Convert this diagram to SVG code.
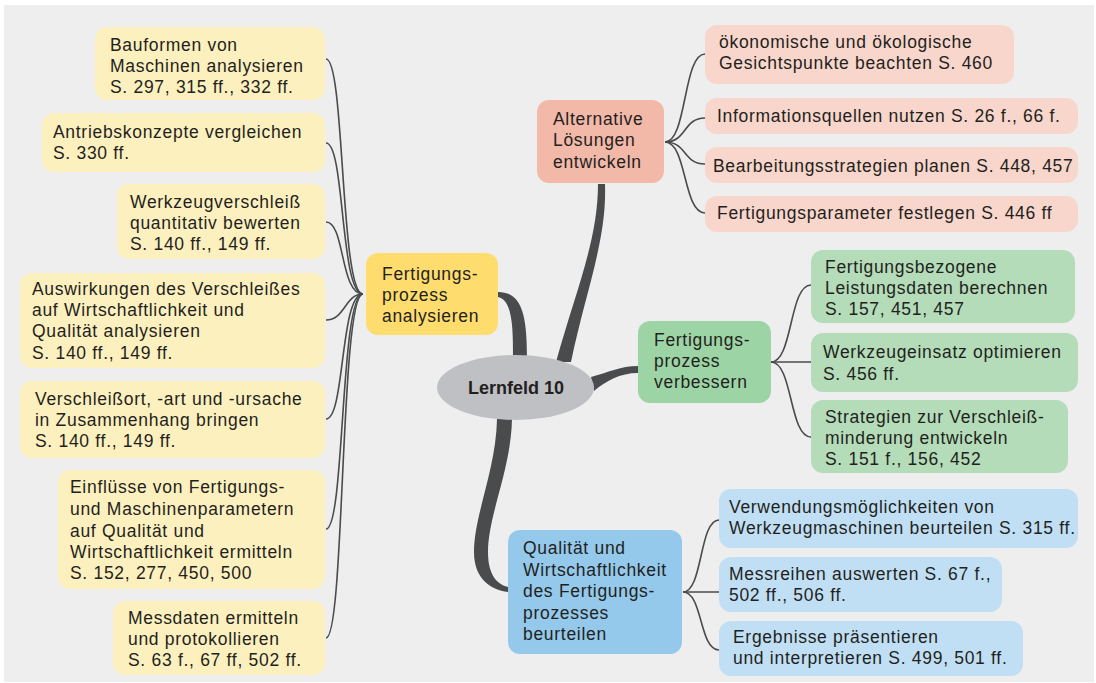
<svg xmlns="http://www.w3.org/2000/svg" width="1096" height="683" viewBox="0 0 1096 683">
<style>
text{font-family:"Liberation Sans",Arial,sans-serif;font-size:17.5px;fill:#231f20;letter-spacing:0.7px}
.c{font-weight:bold;font-size:18px;text-anchor:middle;letter-spacing:0}
.ln{fill:none;stroke:#4a4b4d;stroke-width:1.6}
.th{fill:#4a4b4d}
.y1{fill:#ffdc6e}.y2{fill:#fdf0bf}
.r1{fill:#f2b8a8}.r2{fill:#f8d6cb}
.g1{fill:#9dd4a6}.g2{fill:#b4dcb9}
.b1{fill:#94c9ec}.b2{fill:#c0dff5}
</style>
<rect x="0" y="0" width="1096" height="683" fill="#ffffff"/>
<rect x="4" y="5" width="1090" height="677" fill="#eeeeee"/>
<g id="connectors">
<path class="th" d="M513,358 C513,330 513,300 498,297 L498,292 C522,292 527,315 527,358 Z"/>
<path class="th" d="M556,362 C576,290 598,240 598,184 L605,184 C607,240 586,290 571,362 Z"/>
<path class="th" d="M591,377 C610,372 620,366 638,366 L638,373 C620,373 606,381 594,391 Z"/>
<path class="th" d="M497,419 C496,470 474,515 474,552 C474,578 490,590 508,592 L508,587 C495,584 488,572 488,552 C488,515 511,470 512,419 Z"/>
<path class="ln" d="M363,294 C340,294 345,59 326,59"/>
<path class="ln" d="M363,294 C340,294 345,143 326,143"/>
<path class="ln" d="M363,294 C340,294 345,222 326,222"/>
<path class="ln" d="M363,294 C345,294 345,320 326,320"/>
<path class="ln" d="M363,294 C340,294 345,419 326,419"/>
<path class="ln" d="M363,294 C340,294 345,529 326,529"/>
<path class="ln" d="M363,294 C340,294 345,638 326,638"/>
<path class="ln" d="M665,142 C687,142 683,54 705,54"/>
<path class="ln" d="M665,142 C687,142 683,118 705,118"/>
<path class="ln" d="M665,142 C687,142 683,164 705,164"/>
<path class="ln" d="M665,142 C687,142 683,213 705,213"/>
<path class="ln" d="M771,362 C793,362 789,285 811,285"/>
<path class="ln" d="M771,362 L811,362"/>
<path class="ln" d="M771,362 C793,362 789,437 811,437"/>
<path class="ln" d="M683,592 C703,592 699,520 719,520"/>
<path class="ln" d="M683,592 L719,592"/>
<path class="ln" d="M683,592 C703,592 699,650 719,650"/>
</g>
<g id="center">
<ellipse cx="515.5" cy="387.5" rx="78.5" ry="32.5" fill="#bfc0c4"/>
<text class="c" x="516" y="394">Lernfeld 10</text>
</g>
<g id="n-analysieren">
<rect class="y1" x="366" y="253" width="132" height="82" rx="12"/>
<text x="382" y="280">Fertigungs-</text>
<text x="382" y="301">prozess</text>
<text x="382" y="322">analysieren</text>
</g>
<g id="n-alternative">
<rect class="r1" x="537" y="100" width="127" height="83" rx="12"/>
<text x="553" y="125">Alternative</text>
<text x="553" y="146">Lösungen</text>
<text x="553" y="168">entwickeln</text>
</g>
<g id="n-verbessern">
<rect class="g1" x="638" y="321" width="133" height="82" rx="12"/>
<text x="654" y="346">Fertigungs-</text>
<text x="654" y="367">prozess</text>
<text x="654" y="388">verbessern</text>
</g>
<g id="n-beurteilen">
<rect class="b1" x="508" y="530" width="174" height="124" rx="12"/>
<text x="523" y="554">Qualität und</text>
<text x="523" y="575.5">Wirtschaftlichkeit</text>
<text x="523" y="597">des Fertigungs-</text>
<text x="523" y="618.5">prozesses</text>
<text x="523" y="640">beurteilen</text>
</g>
<g id="y-1">
<rect class="y2" x="95" y="27" width="230" height="73" rx="12"/>
<text x="110" y="51">Bauformen von</text>
<text x="110" y="72">Maschinen analysieren</text>
<text x="110" y="93">S. 297, 315 ff., 332 ff.</text>
</g>
<g id="y-2">
<rect class="y2" x="42" y="113" width="283" height="59" rx="12"/>
<text x="53" y="138">Antriebskonzepte vergleichen</text>
<text x="53" y="159">S. 330 ff.</text>
</g>
<g id="y-3">
<rect class="y2" x="117" y="184" width="208" height="75" rx="12"/>
<text x="130" y="208">Werkzeugverschleiß</text>
<text x="130" y="229">quantitativ bewerten</text>
<text x="130" y="250">S. 140 ff., 149 ff.</text>
</g>
<g id="y-4">
<rect class="y2" x="20" y="273" width="305" height="95" rx="12"/>
<text x="32" y="295">Auswirkungen des Verschleißes</text>
<text x="32" y="316">auf Wirtschaftlichkeit und</text>
<text x="32" y="337">Qualität analysieren</text>
<text x="32" y="359">S. 140 ff., 149 ff.</text>
</g>
<g id="y-5">
<rect class="y2" x="20" y="381" width="305" height="77" rx="12"/>
<text x="35" y="405">Verschleißort, -art und -ursache</text>
<text x="35" y="426">in Zusammenhang bringen</text>
<text x="35" y="447">S. 140 ff., 149 ff.</text>
</g>
<g id="y-6">
<rect class="y2" x="58" y="470" width="267" height="119" rx="12"/>
<text x="70" y="493">Einflüsse von Fertigungs-</text>
<text x="70" y="515">und Maschinenparametern</text>
<text x="70" y="537">auf Qualität und</text>
<text x="70" y="558">Wirtschaftlichkeit ermitteln</text>
<text x="70" y="579">S. 152, 277, 450, 500</text>
</g>
<g id="y-7">
<rect class="y2" x="113" y="601" width="212" height="74" rx="12"/>
<text x="128" y="624">Messdaten ermitteln</text>
<text x="128" y="645">und protokollieren</text>
<text x="128" y="666">S. 63 f., 67 ff, 502 ff.</text>
</g>
<g id="r-1">
<rect class="r2" x="705" y="25" width="309" height="59" rx="12"/>
<text x="719" y="48">ökonomische und ökologische</text>
<text x="719" y="69">Gesichtspunkte beachten S. 460</text>
</g>
<g id="r-2">
<rect class="r2" x="705" y="98" width="373" height="36" rx="12"/>
<text x="717" y="122">Informationsquellen nutzen S. 26 f., 66 f.</text>
</g>
<g id="r-3">
<rect class="r2" x="705" y="147" width="373" height="36" rx="12"/>
<text x="713" y="172">Bearbeitungsstrategien planen S. 448, 457</text>
</g>
<g id="r-4">
<rect class="r2" x="705" y="196" width="373" height="36" rx="12"/>
<text x="717" y="219">Fertigungsparameter festlegen S. 446 ff</text>
</g>
<g id="g-1">
<rect class="g2" x="811" y="250" width="264" height="73" rx="12"/>
<text x="825" y="273">Fertigungsbezogene</text>
<text x="825" y="294">Leistungsdaten berechnen</text>
<text x="825" y="315">S. 157, 451, 457</text>
</g>
<g id="g-2">
<rect class="g2" x="811" y="333" width="267" height="59" rx="12"/>
<text x="823" y="358">Werkzeugeinsatz optimieren</text>
<text x="823" y="380">S. 456 ff.</text>
</g>
<g id="g-3">
<rect class="g2" x="811" y="400" width="257" height="73" rx="12"/>
<text x="825" y="423">Strategien zur Verschleiß-</text>
<text x="825" y="444">minderung entwickeln</text>
<text x="825" y="465">S. 151 f., 156, 452</text>
</g>
<g id="b-1">
<rect class="b2" x="719" y="489" width="359" height="59" rx="12"/>
<text x="729" y="513">Verwendungsmöglichkeiten von</text>
<text x="729" y="534">Werkzeugmaschinen beurteilen S. 315 ff.</text>
</g>
<g id="b-2">
<rect class="b2" x="719" y="557" width="283" height="55" rx="12"/>
<text x="729" y="580">Messreihen auswerten S. 67 f.,</text>
<text x="729" y="601">502 ff., 506 ff.</text>
</g>
<g id="b-3">
<rect class="b2" x="719" y="621" width="304" height="55" rx="12"/>
<text x="733" y="643">Ergebnisse präsentieren</text>
<text x="733" y="664">und interpretieren S. 499, 501 ff.</text>
</g>
</svg>
